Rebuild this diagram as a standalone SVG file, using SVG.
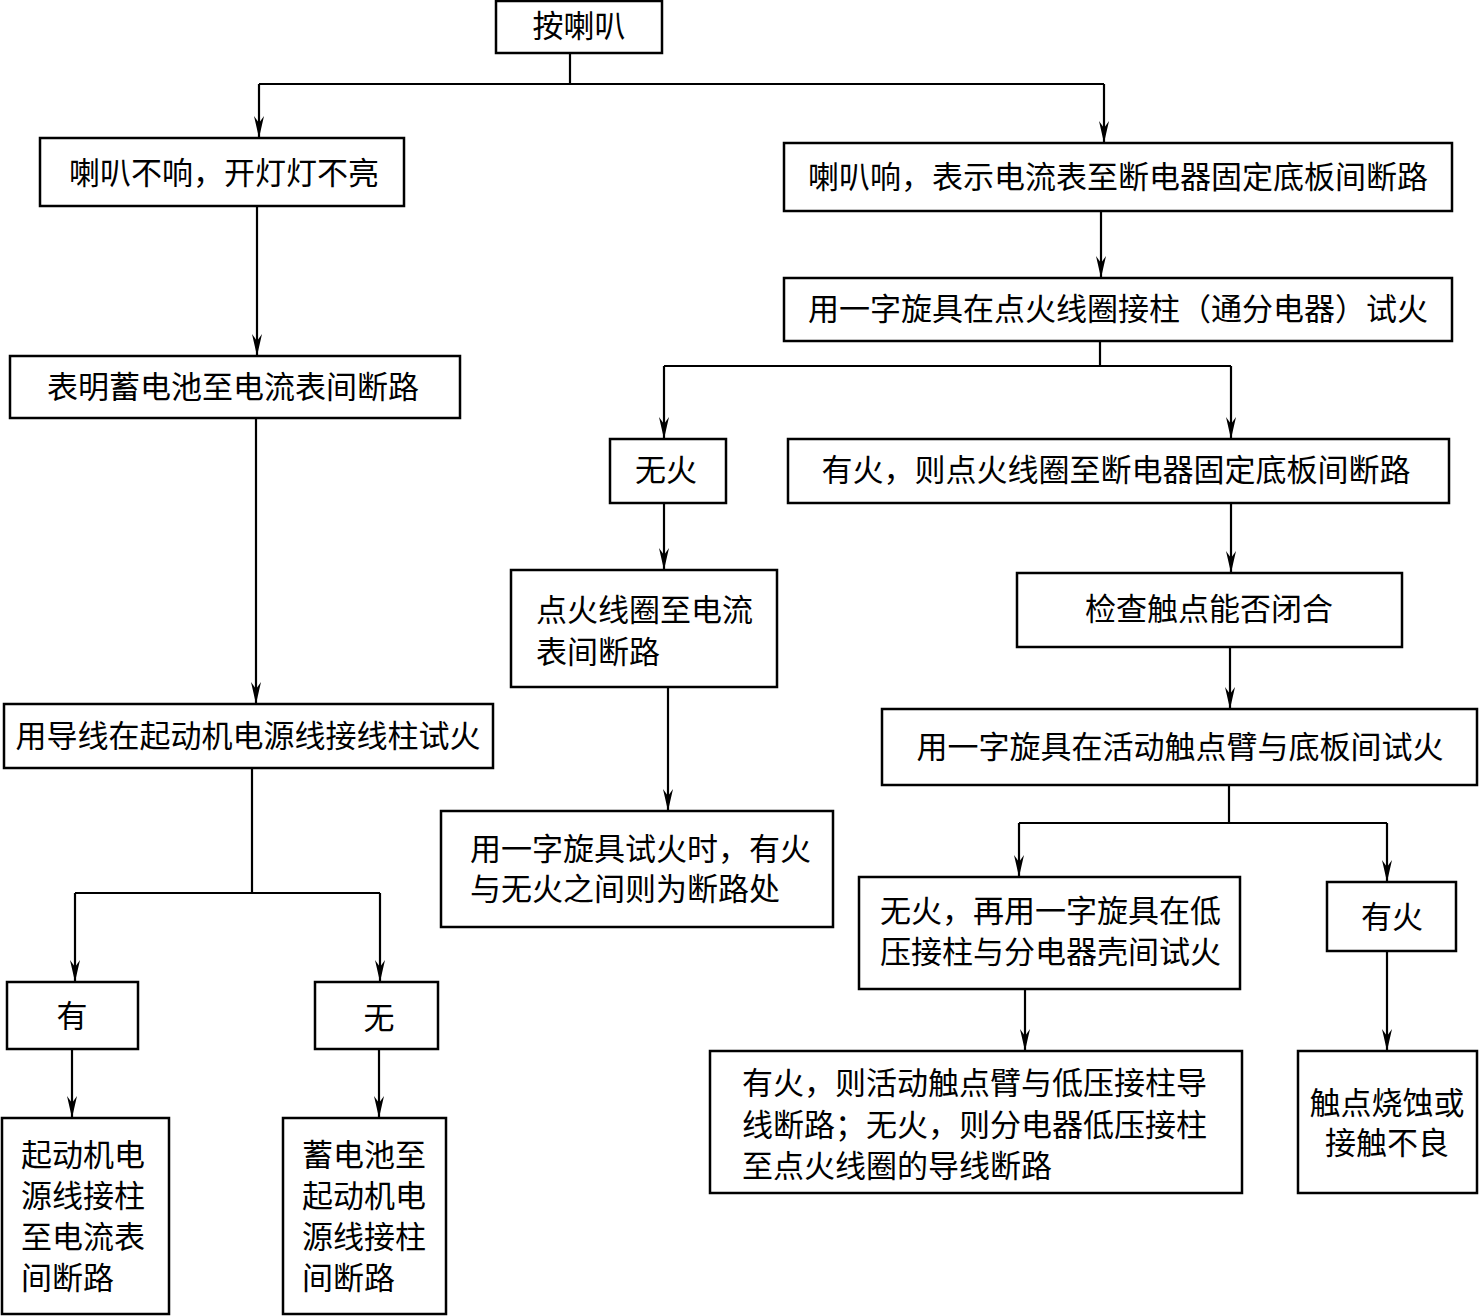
<svg xmlns="http://www.w3.org/2000/svg" width="1479" height="1316" viewBox="0 0 1479 1316">
<defs>
<style>
rect{fill:#fff;stroke:#000;stroke-width:2.5}
text{font-family:"Liberation Serif","Noto Sans CJK SC",serif;font-size:31px;fill:#000;dominant-baseline:central}
.c{text-anchor:middle}
.conn path{fill:none;stroke:#000;stroke-width:2.2}
</style>
<marker id="ar" viewBox="0 0 22 10" refX="22" refY="5" markerWidth="22" markerHeight="10" markerUnits="userSpaceOnUse" orient="auto">
<path d="M0,0 L22,5 L0,10 L7,5 Z" fill="#000"/>
</marker>
</defs>
<rect width="1479" height="1316" style="fill:#fff;stroke:none"/>
<g class="conn">
<path d="M570,53 V84 M259,84 H1104"/>
<path d="M259,84 V138" marker-end="url(#ar)"/>
<path d="M1104,84 V143" marker-end="url(#ar)"/>
<path d="M257,206 V356" marker-end="url(#ar)"/>
<path d="M1101,211 V278" marker-end="url(#ar)"/>
<path d="M1100,341 V366 M664,366 H1231"/>
<path d="M664,366 V439" marker-end="url(#ar)"/>
<path d="M1231,366 V439" marker-end="url(#ar)"/>
<path d="M664,503 V570" marker-end="url(#ar)"/>
<path d="M668,687 V811" marker-end="url(#ar)"/>
<path d="M1231,503 V573" marker-end="url(#ar)"/>
<path d="M1230,647 V709" marker-end="url(#ar)"/>
<path d="M1229,785 V823 M1019,823 H1387"/>
<path d="M1019,823 V877" marker-end="url(#ar)"/>
<path d="M1387,823 V882" marker-end="url(#ar)"/>
<path d="M1025,989 V1051" marker-end="url(#ar)"/>
<path d="M1387,951 V1051" marker-end="url(#ar)"/>
<path d="M256,418 V704" marker-end="url(#ar)"/>
<path d="M252,768 V893 M75,893 H380"/>
<path d="M75,893 V982" marker-end="url(#ar)"/>
<path d="M380,893 V982" marker-end="url(#ar)"/>
<path d="M72,1049 V1118" marker-end="url(#ar)"/>
<path d="M379,1049 V1118" marker-end="url(#ar)"/>
</g>
<g id="n1"><rect x="496" y="1" width="166" height="52"/><text class="c" x="579" y="26">按喇叭</text></g>
<g id="n2"><rect x="40" y="138" width="364" height="68"/><text class="c" x="224" y="173">喇叭不响，开灯灯不亮</text></g>
<g id="n3"><rect x="784" y="143" width="668" height="68"/><text class="c" x="1118" y="177">喇叭响，表示电流表至断电器固定底板间断路</text></g>
<g id="n4"><rect x="10" y="356" width="450" height="62"/><text class="c" x="233" y="387">表明蓄电池至电流表间断路</text></g>
<g id="n5"><rect x="784" y="278" width="668" height="63"/><text class="c" x="1118" y="309">用一字旋具在点火线圈接柱（通分电器）试火</text></g>
<g id="n6"><rect x="610" y="439" width="116" height="64"/><text class="c" x="666" y="470">无火</text></g>
<g id="n7"><rect x="788" y="439" width="661" height="64"/><text class="c" x="1116" y="470">有火，则点火线圈至断电器固定底板间断路</text></g>
<g id="n8"><rect x="511" y="570" width="266" height="117"/><text x="536" y="610">点火线圈至电流</text><text x="536" y="652">表间断路</text></g>
<g id="n9"><rect x="441" y="811" width="392" height="116"/><text x="470" y="849">用一字旋具试火时，有火</text><text x="470" y="889">与无火之间则为断路处</text></g>
<g id="n10"><rect x="1017" y="573" width="385" height="74"/><text class="c" x="1209" y="609">检查触点能否闭合</text></g>
<g id="n11"><rect x="882" y="709" width="595" height="76"/><text class="c" x="1180" y="747">用一字旋具在活动触点臂与底板间试火</text></g>
<g id="n12"><rect x="859" y="877" width="381" height="112"/><text x="880" y="911">无火，再用一字旋具在低</text><text x="880" y="952">压接柱与分电器壳间试火</text></g>
<g id="n13"><rect x="1327" y="882" width="129" height="69"/><text class="c" x="1392" y="917">有火</text></g>
<g id="n14"><rect x="710" y="1051" width="532" height="142"/><text x="742" y="1083">有火，则活动触点臂与低压接柱导</text><text x="742" y="1125">线断路；无火，则分电器低压接柱</text><text x="742" y="1166">至点火线圈的导线断路</text></g>
<g id="n15"><rect x="1298" y="1051" width="179" height="142"/><text class="c" x="1387" y="1103">触点烧蚀或</text><text class="c" x="1387" y="1143">接触不良</text></g>
<g id="n16"><rect x="4" y="704" width="489" height="64"/><text class="c" x="248" y="736">用导线在起动机电源线接线柱试火</text></g>
<g id="n17"><rect x="7" y="982" width="131" height="67"/><text class="c" x="72" y="1016">有</text></g>
<g id="n18"><rect x="315" y="982" width="123" height="67"/><text class="c" x="379" y="1018">无</text></g>
<g id="n19"><rect x="2" y="1118" width="167" height="196"/><text x="21" y="1155">起动机电</text><text x="21" y="1196">源线接柱</text><text x="21" y="1237">至电流表</text><text x="21" y="1278">间断路</text></g>
<g id="n20"><rect x="283" y="1118" width="163" height="196"/><text x="302" y="1155">蓄电池至</text><text x="302" y="1196">起动机电</text><text x="302" y="1237">源线接柱</text><text x="302" y="1278">间断路</text></g>
</svg>
